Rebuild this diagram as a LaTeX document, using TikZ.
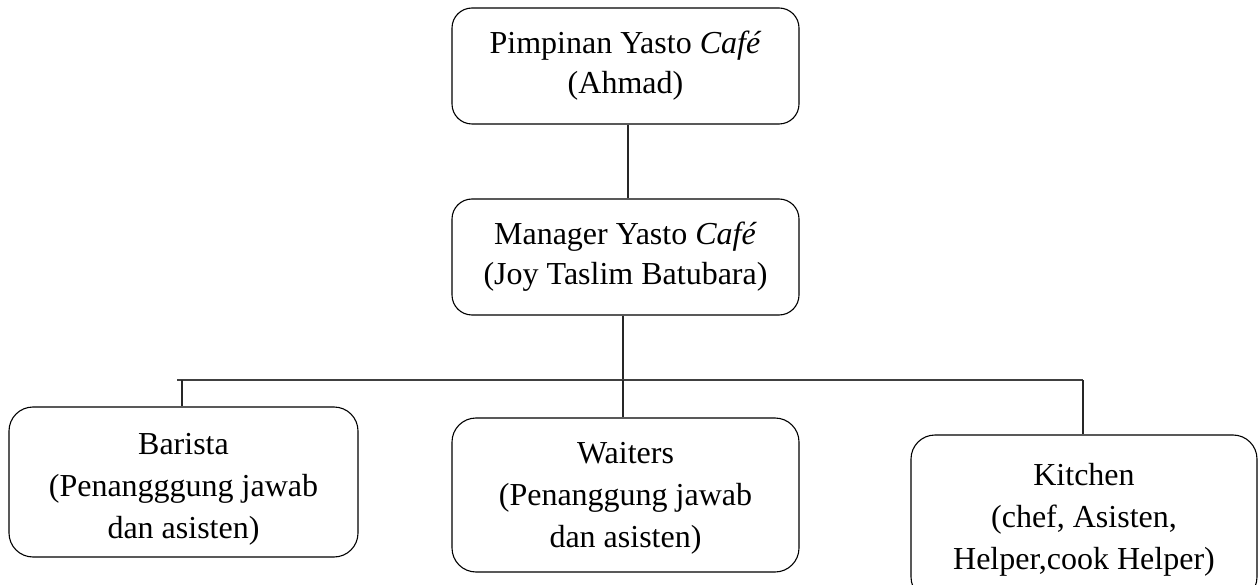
\documentclass[tikz,border=0pt]{standalone}
\usepackage{fontspec}
\setmainfont{Liberation Serif}
\begin{document}
\begin{tikzpicture}[x=1pt,y=-1pt,
  orgbox/.style={draw=black, line width=1.1pt, rounded corners=20pt, align=center,
    inner sep=0pt, font=\fontsize{32}{40}\selectfont},
  lowbox/.style={draw=black, line width=1.1pt, rounded corners=24pt, inner sep=0pt},
  lowtext/.style={align=center, inner sep=0pt, font=\fontsize{32}{42}\selectfont},
  link/.style={draw=black!85, line width=1.1pt}]
\clip (0,0) rectangle (1258,585);
\fill[white] (0,0) rectangle (1258,585);

\node[orgbox, minimum width=347pt, minimum height=116pt] (top) at (625.5,66) {Pimpinan Yasto \textit{Café}\\(Ahmad)};
\node[orgbox, minimum width=347pt, minimum height=116pt] (mgr) at (625.5,257) {Manager Yasto \textit{Café}\\(Joy Taslim Batubara)};

\node[lowbox, minimum width=349pt, minimum height=150pt] (bar) at (183.5,482) {};
\node[lowtext] (barT) at ([yshift=-7pt]bar.center) {Barista\\(Penangggung jawab\\dan asisten)};
\node[lowbox, minimum width=347pt, minimum height=154pt] (wai) at (625.5,495) {};
\node[lowtext] (waiT) at ([yshift=-3pt]wai.center) {Waiters\\(Penanggung jawab\\dan asisten)};
\node[lowbox, minimum width=346pt, minimum height=166pt] (kit) at (1084,518) {};
\node[lowtext] (kitT) at ([yshift=-2pt]kit.center) {Kitchen\\(chef, Asisten,\\Helper,cook Helper)};

\coordinate (busL) at (177,380);
\coordinate (busR) at (1083,380);
\coordinate (busM) at (623,380);

\draw[link] ([xshift=2.5pt]top.south) -- ([xshift=2.5pt]mgr.north);
\draw[link] ([xshift=-2.5pt]mgr.south) -- (busM);
\draw[link, draw=black!75, line width=1.4pt] (busL) -- (busR);
\draw[link] (busL -| 182,0) -- ([xshift=-1.5pt]bar.north);
\draw[link] (busM) -- ([xshift=-2.5pt]wai.north);
\draw[link] (busR) -- ([xshift=-1pt]kit.north);
\end{tikzpicture}
\end{document}
